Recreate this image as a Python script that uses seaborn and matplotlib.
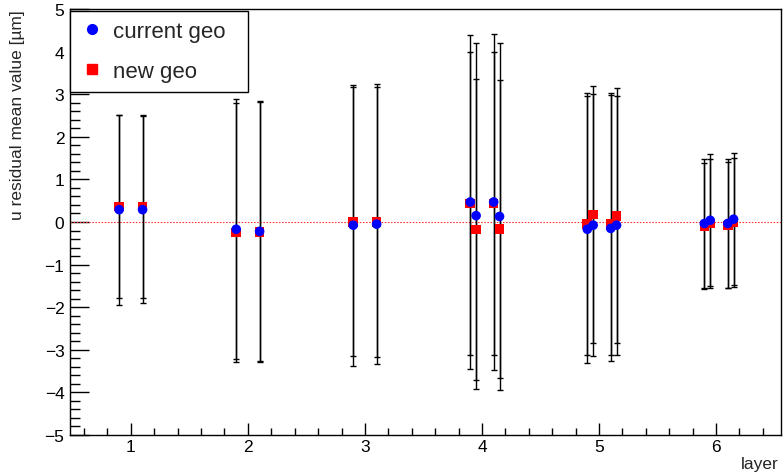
import matplotlib
matplotlib.use("Agg")
import matplotlib.pyplot as plt
from matplotlib.lines import Line2D
from matplotlib.ticker import MultipleLocator
import numpy as np
import pandas as pd
import seaborn as sns

# sensor positions along the layer axis
pos = [0.9, 1.1, 1.9, 2.1, 2.9, 3.1,
       3.9, 3.95, 4.1, 4.15,
       4.9, 4.95, 5.1, 5.15,
       5.9, 5.95, 6.1, 6.15]

# mean u residual and its spread [um], current geometry
cur_mean = [0.29, 0.29, -0.17, -0.22, -0.075, -0.05,
            0.47, 0.15, 0.47, 0.13,
            -0.17, -0.075, -0.15, -0.075,
            -0.035, 0.04, -0.035, 0.066]
cur_err = [2.23, 2.19, 3.05, 3.05, 3.30, 3.28,
           3.93, 4.06, 3.94, 4.07,
           3.13, 3.07, 3.12, 3.04,
           1.52, 1.55, 1.52, 1.55]

# mean u residual and its spread [um], new geometry
new_mean = [0.36, 0.36, -0.25, -0.24, 0.005, 0.005,
            0.43, -0.18, 0.43, -0.16,
            -0.05, 0.176, -0.05, 0.146,
            -0.09, -0.035, -0.08, -0.01]
new_err = [2.15, 2.15, 3.04, 3.05, 3.16, 3.17,
           3.56, 3.53, 3.56, 3.50,
           3.08, 3.02, 3.07, 2.99,
           1.48, 1.51, 1.48, 1.52]

labels = ["current geo", "new geo"]
colors = {"current geo": "#0000ff", "new geo": "#ff0000"}
markers = {"current geo": "o", "new geo": "s"}

# new geometry first so the current geometry markers sit on top
df = pd.concat([
    pd.DataFrame({"layer": pos, "mean": new_mean, "err": new_err, "geo": "new geo"}),
    pd.DataFrame({"layer": pos, "mean": cur_mean, "err": cur_err, "geo": "current geo"}),
], ignore_index=True)

sns.set_theme(style="ticks")
plt.rcParams["font.family"] = ["Liberation Sans", "DejaVu Sans"]
plt.rcParams["font.size"] = 12

fig = plt.figure(figsize=(7.83, 4.77), dpi=100)
ax = fig.add_axes([70 / 783, 1 - 436 / 477, 711 / 783, 426 / 477])

ax.axhline(0, color="#ff3030", lw=0.8, ls=(0, (1.4, 1.4)), zorder=1)

for g in ["new geo", "current geo"]:
    sub = df[df["geo"] == g]
    ax.errorbar(sub["layer"], sub["mean"], yerr=sub["err"], fmt="none",
                ecolor="black", elinewidth=1.0, capsize=2.3, capthick=1.0, zorder=2)

sns.scatterplot(data=df, x="layer", y="mean", hue="geo", style="geo",
                palette=colors, markers=markers, s=48, linewidth=0,
                legend=False, ax=ax, zorder=3)

ax.set_xlim(0.48, 6.555)
ax.set_ylim(-5, 5)
ax.xaxis.set_major_locator(MultipleLocator(1))
ax.xaxis.set_minor_locator(MultipleLocator(0.2))
ax.yaxis.set_major_locator(MultipleLocator(1))
ax.yaxis.set_minor_locator(MultipleLocator(0.2))

for s in ax.spines.values():
    s.set_color("black")
    s.set_linewidth(1.0)

ax.tick_params(which="both", direction="in", top=False, right=False,
               color="black", width=1.0, labelsize=12.5, labelcolor="black")
ax.tick_params(axis="y", which="major", length=14, pad=4)
ax.tick_params(axis="y", which="minor", length=7)
ax.tick_params(axis="x", which="major", length=9, pad=3)
ax.tick_params(axis="x", which="minor", length=5)

ax.set_xlabel("layer", loc="right", fontsize=12.5)
ax.xaxis.set_label_coords(0.997, -0.05)
ax.set_ylabel("u residual mean value [µm]", loc="top", fontsize=12.5)
ax.yaxis.set_label_coords(-0.063, 1.0)

handles = [Line2D([], [], ls="none", marker=markers[l], color=colors[l],
                  markersize=7 if l == "current geo" else 6.5) for l in labels]
leg = ax.legend(handles, labels, loc="upper left",
                bbox_to_anchor=(0, 0, 178 / 711, 1 - 2 / 426), mode="expand",
                borderaxespad=0, fontsize=16, frameon=True, fancybox=False,
                edgecolor="black", framealpha=1, handlelength=1.1,
                handletextpad=0.4, borderpad=0.45, labelspacing=0.85)
leg.get_frame().set_linewidth(1.0)

fig.savefig("out.png", dpi=100)
